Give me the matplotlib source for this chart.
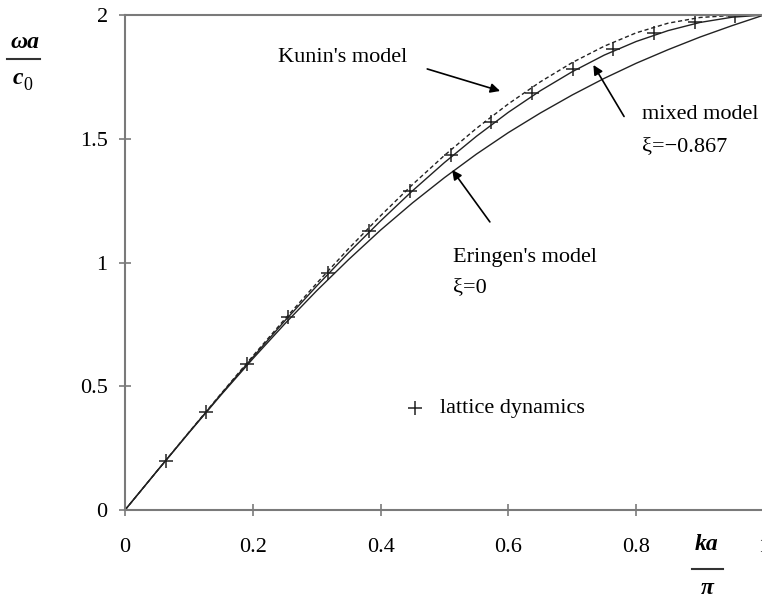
import matplotlib
matplotlib.use("Agg")
import matplotlib.pyplot as plt
from matplotlib.lines import Line2D

x_curve = [0, 0.05, 0.1, 0.15, 0.2, 0.25, 0.3, 0.35, 0.4, 0.45, 0.5,
           0.55, 0.6, 0.65, 0.7, 0.75, 0.8, 0.85, 0.9, 0.95, 1.0]
eringen = [0, 0.157, 0.312, 0.464, 0.611, 0.752, 0.886, 1.012, 1.131, 1.241, 1.343,
           1.438, 1.525, 1.604, 1.677, 1.744, 1.805, 1.860, 1.911, 1.957, 2.0]
mixed = [0, 0.157, 0.313, 0.467, 0.617, 0.764, 0.905, 1.040, 1.168, 1.290, 1.404,
         1.510, 1.607, 1.694, 1.771, 1.838, 1.893, 1.937, 1.970, 1.991, 2.0]
kunin = [0, 0.157, 0.314, 0.469, 0.622, 0.771, 0.916, 1.056, 1.189, 1.315, 1.433,
         1.542, 1.641, 1.730, 1.808, 1.874, 1.928, 1.967, 1.990, 1.998, 2.0]

x_lattice = [0.064, 0.127, 0.191, 0.255, 0.318, 0.382, 0.446, 0.510,
             0.573, 0.637, 0.701, 0.764, 0.828, 0.892, 0.955]
y_lattice = [0.200, 0.397, 0.591, 0.779, 0.959, 1.129, 1.289, 1.435,
             1.567, 1.683, 1.782, 1.864, 1.927, 1.971, 1.995]

xticks = [0, 0.2, 0.4, 0.6, 0.8, 1]
xticklabels = ["0", "0.2", "0.4", "0.6", "0.8", "1"]
yticks = [0, 0.5, 1, 1.5, 2]
yticklabels = ["0", "0.5", "1", "1.5", "2"]

serif = "Liberation Serif"
gray = "#7a7a7a"

fig = plt.figure(figsize=(7.62, 5.98), dpi=100)
ax = fig.add_axes([125/762, 88/598, 639/762, 495/598])

ax.plot(x_curve, eringen, color="#222222", lw=1.0)
ax.plot(x_curve, mixed, color="#222222", lw=1.0)
ax.plot(x_curve, kunin, color="#222222", lw=1.0, ls=(0, (3, 2)))
ax.plot(x_lattice, y_lattice, ls="none", marker="+", ms=10, mew=1.1, color="#222222")

ax.set_xlim(0, 1)
ax.set_ylim(0, 2)
ax.set_xticks(xticks)
ax.set_xticklabels(xticklabels)
ax.set_yticks(yticks)
ax.set_yticklabels(yticklabels)
for lab in ax.get_xticklabels() + ax.get_yticklabels():
    lab.set_fontfamily(serif)
    lab.set_fontsize(16)
ax.tick_params(axis="both", direction="inout", length=9, width=1.2, color=gray)
ax.tick_params(axis="x", pad=16)
ax.tick_params(axis="y", pad=8)
for s in ["left", "bottom", "top"]:
    ax.spines[s].set_color(gray)
    ax.spines[s].set_linewidth(1.5)
ax.spines["right"].set_visible(False)

arrow = dict(arrowstyle="-|>", color="black", lw=1.2, mutation_scale=14, shrinkA=0, shrinkB=0)
txt = dict(fontfamily=serif, fontsize=16, va="center", ha="left")

ax.text(0.239, 1.830, "Kunin's model", **txt)
ax.annotate("", xy=(0.587, 1.693), xytext=(0.473, 1.782), arrowprops=arrow)

ax.text(0.809, 1.596, "mixed model", **txt)
ax.text(0.809, 1.467, "ξ=\u22120.867", **txt)
ax.annotate("", xy=(0.733, 1.798), xytext=(0.781, 1.590), arrowprops=arrow)

ax.text(0.514, 1.022, "Eringen's model", **txt)
ax.text(0.514, 0.897, "ξ=0", **txt)
ax.annotate("", xy=(0.512, 1.374), xytext=(0.571, 1.164), arrowprops=arrow)

ax.plot([0.454], [0.412], ls="none", marker="+", ms=10, mew=1.1, color="#222222")
ax.text(0.493, 0.412, "lattice dynamics", **txt)

# axis labels drawn as fractions
lab = dict(fontfamily=serif, fontsize=17, fontweight="bold", fontstyle="italic",
           ha="center", va="center")
fig.text(25/762, 1 - 43/598, "ωa", **lab)
fig.add_artist(Line2D([7/762, 40/762], [1 - 59/598, 1 - 59/598], color="#333333", lw=1.5))
fig.text(18/762, 1 - 79/598, "c", **lab)
fig.text(28/762, 1 - 85/598, "0", fontfamily=serif, fontsize=13, ha="center", va="center")

fig.text(707/762, 1 - 545/598, "ka", **lab)
fig.add_artist(Line2D([692/762, 723/762], [1 - 569/598, 1 - 569/598], color="#333333", lw=1.5))
fig.text(707/762, 1 - 588/598, "π", **lab)

fig.savefig("out.png", dpi=100)
